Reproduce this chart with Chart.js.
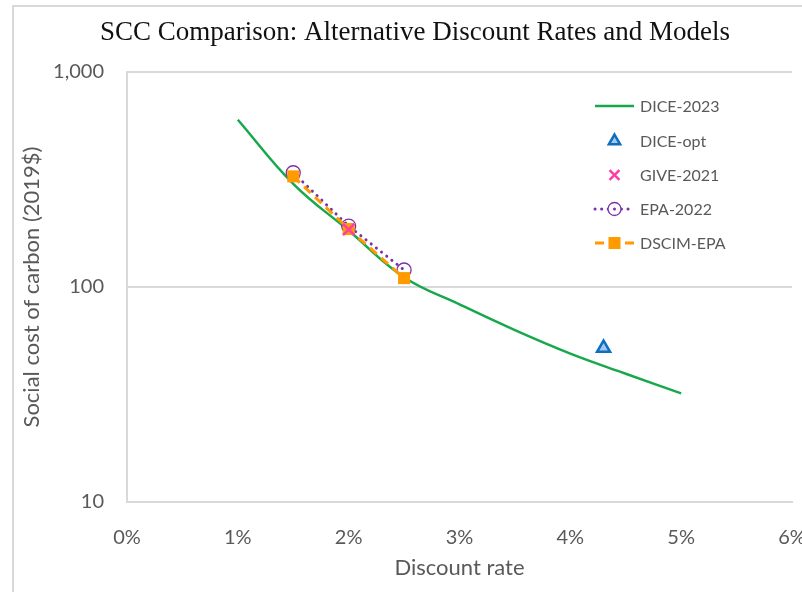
<!DOCTYPE html>
<html>
<head>
<meta charset="utf-8">
<script src="https://cdn.jsdelivr.net/npm/chart.js@4.4.1/dist/chart.umd.min.js"></script>
<style>
  html, body { margin: 0; padding: 0; background: #fff; overflow: hidden; width: 802px; height: 592px; }
  #frame { position: absolute; left: 12px; top: 5px; width: 900px; height: 700px; border-left: 2px solid #d9d9d9; border-top: 2px solid #d9d9d9; box-sizing: border-box; }
  #c { position: absolute; left: 0; top: 0; }
</style>
</head>
<body>
<div id="frame"></div>
<canvas id="c" width="830" height="592"></canvas>
<script>
// ---- Data ----
const titleText = "SCC Comparison: Alternative Discount Rates and Models";
const xTitle = "Discount rate";
const yTitle = "Social cost of carbon (2019$)";
const yTickValues = [10, 100, 1000];
const xTickValues = [0, 0.01, 0.02, 0.03, 0.04, 0.05, 0.06];

const diceRates = [0.01, 0.015, 0.02, 0.025, 0.03, 0.035, 0.04, 0.045, 0.05];
const diceScc   = [600, 302, 183, 111, 83, 63, 49, 39.5, 32];

const diceOptRate = [0.043];
const diceOptScc  = [52];

const giveRate = [0.02];
const giveScc  = [185];

const epaRates = [0.015, 0.02, 0.025];
const epaScc   = [340, 192, 120];

const dscimRates = [0.015, 0.02, 0.025];
const dscimScc   = [327, 186, 110];

const seriesNames = ["DICE-2023", "DICE-opt", "GIVE-2021", "EPA-2022", "DSCIM-EPA"];

const toXY = (xs, ys) => xs.map((x, i) => ({ x: x, y: ys[i] }));

const GREEN = '#17a84b', BLUE = '#0b6fc2', BLUE_FILL = '#a9c6ea', PINK = '#ff3da6',
      PURPLE = '#7a32a8', ORANGE = '#ff9a00', GRAY_TXT = '#595959', GRID = '#d9d9d9';

const datasets = [
  { label: seriesNames[0], data: toXY(diceRates, diceScc), borderColor: GREEN, borderWidth: 2.5,
    pointRadius: 0, tension: 0.4, fill: false, order: 5 },
  { label: seriesNames[1], data: toXY(diceOptRate, diceOptScc), showLine: false, pointStyle: 'triangle',
    pointRadius: 7.5, borderColor: BLUE, backgroundColor: BLUE_FILL, pointBorderWidth: 2.5, order: 4 },
  { label: seriesNames[2], data: toXY(giveRate, giveScc), showLine: false, pointStyle: 'crossRot',
    pointRadius: 8, borderColor: PINK, backgroundColor: PINK, pointBorderWidth: 2.5, order: 0 },
  { label: seriesNames[3], data: toXY(epaRates, epaScc), borderColor: PURPLE, borderWidth: 3,
    borderDash: [0.1, 6.5], borderCapStyle: 'round', pointStyle: 'circle', pointRadius: 7,
    pointBackgroundColor: 'rgba(255,255,255,0)', pointBorderColor: PURPLE, pointBorderWidth: 1.3,
    tension: 0, order: 2 },
  { label: seriesNames[4], data: toXY(dscimRates, dscimScc), borderColor: ORANGE, borderWidth: 3,
    borderDash: [9, 6], pointStyle: 'rect', pointRadius: 8.5, pointBackgroundColor: ORANGE,
    pointBorderColor: ORANGE, pointBorderWidth: 0, tension: 0, order: 1 }
];

// custom title + legend drawer
const decor = {
  id: 'decor',
  afterDraw(chart) {
    const ctx = chart.ctx;
    ctx.save();
    ctx.fillStyle = '#111';
    ctx.font = '27px "Liberation Serif"';
    ctx.textAlign = 'center';
    ctx.textBaseline = 'middle';
    ctx.fillText(titleText, 415, 33);

    const x0 = 595, x1 = 634, xm = (x0 + x1) / 2, tx = 640;
    const ys = [106, 141, 175, 209, 243];
    ctx.font = '16px Lato';
    ctx.textAlign = 'left';
    ys.forEach((y, i) => {
      const ds = chart.data.datasets[i];
      ctx.save();
      if (i === 0 || i === 3 || i === 4) {
        ctx.beginPath();
        ctx.strokeStyle = ds.borderColor;
        ctx.lineWidth = ds.borderWidth;
        ctx.lineCap = ds.borderCapStyle || 'butt';
        ctx.setLineDash(ds.borderDash || []);
        ctx.moveTo(x0, y); ctx.lineTo(x1, y); ctx.stroke();
      }
      ctx.restore();
      ctx.save();
      if (i === 1) {
        ctx.fillStyle = BLUE_FILL; ctx.strokeStyle = BLUE; ctx.lineWidth = 2.5;
        Chart.helpers.drawPoint(ctx, { pointStyle: 'triangle', radius: 6.5, borderWidth: 2.5 }, xm, y);
      } else if (i === 2) {
        ctx.strokeStyle = PINK; ctx.lineWidth = 2.5;
        Chart.helpers.drawPoint(ctx, { pointStyle: 'crossRot', radius: 7, borderWidth: 2.5 }, xm, y);
      } else if (i === 3) {
        ctx.fillStyle = '#fff'; ctx.strokeStyle = PURPLE; ctx.lineWidth = 1.3;
        ctx.beginPath(); ctx.arc(xm, y, 6.5, 0, Math.PI * 2); ctx.fill(); ctx.stroke();
        ctx.fillStyle = PURPLE; ctx.beginPath(); ctx.arc(xm, y, 1.5, 0, Math.PI * 2); ctx.fill();
      } else if (i === 4) {
        ctx.fillStyle = ORANGE;
        ctx.fillRect(xm - 6, y - 6, 12, 12);
      }
      ctx.restore();
      ctx.fillStyle = GRAY_TXT;
      ctx.fillText(ds.label, tx, y + 1);
    });
    ctx.restore();
  }
};

new Chart(document.getElementById('c'), {
  type: 'line',
  data: { datasets: datasets },
  plugins: [decor],
  options: {
    responsive: false,
    animation: false,
    layout: { padding: { left: 10, top: 72, right: 38, bottom: 0 } },
    plugins: { legend: { display: false }, title: { display: false }, tooltip: { enabled: false } },
    scales: {
      x: {
        type: 'linear', min: 0, max: 0.06,
        afterBuildTicks: (s) => { s.ticks = xTickValues.map(v => ({ value: v })); },
        afterFit: (s) => { s.height = 90; },
        ticks: { callback: (v) => Math.round(v * 100) + '%', color: GRAY_TXT, font: { family: 'Lato', size: 20 }, padding: 24, maxRotation: 0 },
        grid: { display: false, drawTicks: false },
        border: { display: true, color: GRID, width: 2 },
        title: { display: true, text: xTitle, color: GRAY_TXT, font: { family: 'Lato', size: 22, lineHeight: 1.2 }, padding: { top: 0, bottom: 11 } }
      },
      y: {
        type: 'logarithmic', min: 10, max: 1000,
        afterBuildTicks: (s) => { s.ticks = yTickValues.map(v => ({ value: v })); },
        afterFit: (s) => { s.width = 117; },
        ticks: { callback: (v) => v.toLocaleString('en-US'), color: GRAY_TXT, font: { family: 'Lato', size: 20 }, padding: 23 },
        grid: { color: GRID, lineWidth: 2, drawTicks: false },
        border: { display: true, color: GRID, width: 2 },
        title: { display: true, text: yTitle, color: GRAY_TXT, font: { family: 'Lato', size: 22, lineHeight: 1.2 }, padding: { top: 9, bottom: 0 } }
      }
    }
  }
});
</script>
</body>
</html>
